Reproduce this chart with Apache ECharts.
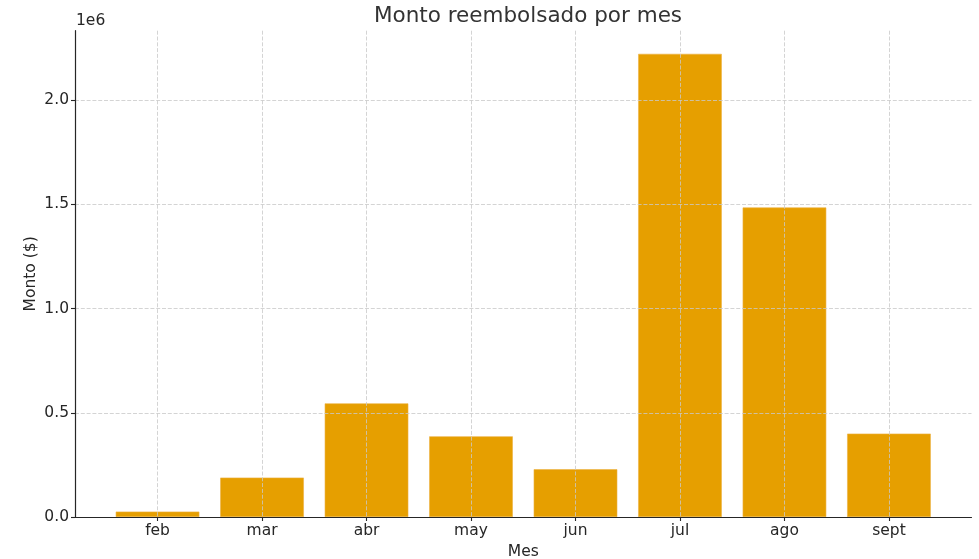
<!DOCTYPE html>
<html>
<head>
<meta charset="utf-8">
<script src="https://cdn.jsdelivr.net/npm/echarts@6/dist/echarts.min.js"></script>
<style>
html,body{margin:0;padding:0;background:#fff;}
#chart{width:979px;height:559px;}
</style>
</head>
<body>
<div id="chart"></div>
<script>
const categories = ['feb', 'mar', 'abr', 'may', 'jun', 'jul', 'ago', 'sept'];
const amounts = [26000, 189000, 545000, 387000, 229000, 2222000, 1485000, 400000];
const yTicks = [0, 500000, 1000000, 1500000, 2000000];

const positions = categories.map((c, i) => i);
const barData = categories.map((c, i) => [i, amounts[i]]);
const yMax = Math.max.apply(null, amounts) * 1.05;

const chart = echarts.init(document.getElementById('chart'), null, {renderer: 'canvas'});
const FONT = 'DejaVu Sans';
const txt = '#262626';

chart.setOption({
  animation: false,
  backgroundColor: '#ffffff',
  title: {
    text: 'Monto reembolsado por mes',
    left: 523, top: 0,
    textAlign: 'center',
    textStyle: {fontFamily: FONT, fontSize: 21.5, fontWeight: 'normal', color: '#333333'}
  },
  grid: {left: 75, right: 7.5, top: 30.7, bottom: 42, containLabel: false, outerBoundsMode: 'none'},
  xAxis: {
    type: 'value',
    min: -0.79, max: 7.79,
    name: 'Mes',
    nameLocation: 'middle',
    nameGap: 27,
    nameTextStyle: {fontFamily: FONT, fontSize: 15.5, color: txt},
    axisLine: {show: true, onZero: false, lineStyle: {color: '#262626', width: 1.2}},
    axisTick: {show: true, customValues: positions, length: 4, lineStyle: {color: '#262626', width: 1.1}},
    axisLabel: {
      customValues: positions,
      margin: 6,
      fontFamily: FONT, fontSize: 15.5, color: txt,
      formatter: v => categories[Math.round(v)] || ''
    },
    splitLine: {show: true, lineStyle: {color: '#c9c9c9', width: 0.8, type: [4, 1.8]}}
  },
  yAxis: {
    type: 'value',
    min: 0, max: yMax,
    name: 'Monto ($)',
    nameLocation: 'middle',
    nameGap: 36,
    nameMoveOverlap: false,
    nameTextStyle: {fontFamily: FONT, fontSize: 15.5, color: txt},
    axisLine: {show: true, onZero: false, lineStyle: {color: '#262626', width: 1.2}},
    axisTick: {show: true, customValues: yTicks, length: 4, lineStyle: {color: '#262626', width: 1.1}},
    axisLabel: {
      customValues: yTicks,
      margin: 6,
      fontFamily: FONT, fontSize: 15.5, color: txt,
      formatter: v => (v / 1e6).toFixed(1)
    },
    splitLine: {show: true, lineStyle: {color: '#c9c9c9', width: 0.8, type: [4, 1.8]}}
  },
  graphic: [{
    type: 'text',
    left: 76, top: 13,
    style: {text: '1e6', fontFamily: FONT, fontSize: 15.5, fill: txt}
  }],
  series: [{
    type: 'bar',
    data: barData,
    barWidth: 83.6,
    z: -1,
    itemStyle: {color: '#E69F00', borderColor: '#EDB040', borderWidth: 0.6}
  }]
});
</script>
</body>
</html>
